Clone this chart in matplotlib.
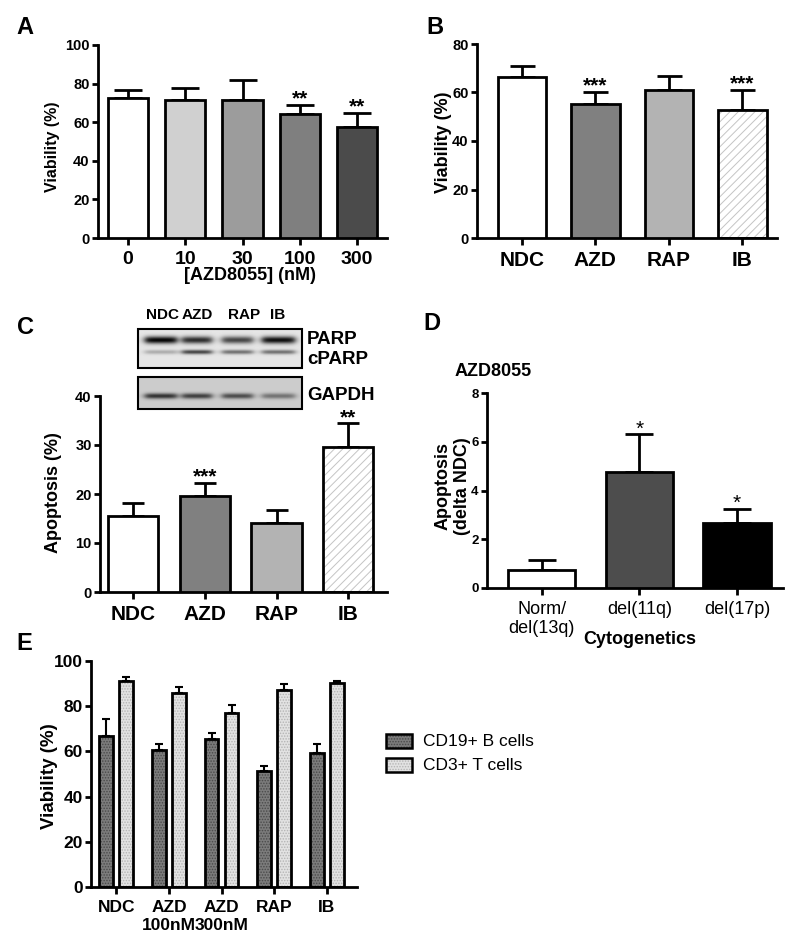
import numpy as np
import matplotlib
matplotlib.use('Agg')
import matplotlib.pyplot as plt
from matplotlib.patches import Rectangle

plt.rcParams['font.family'] = ['Liberation Sans', 'DejaVu Sans']
plt.rcParams['font.weight'] = 'bold'
plt.rcParams['hatch.linewidth'] = 0.7

# ---- data ----
dose_labels = ['0', '10', '30', '100', '300']
dose_viability = [72.5, 71.5, 71.5, 64.5, 57.5]
dose_err = [4.0, 6.0, 10.5, 4.5, 7.5]
dose_sig = ['', '', '', '**', '**']

drug_labels = ['NDC', 'AZD', 'RAP', 'IB']
drug_viability = [66.2, 55.2, 61.1, 52.8]
drug_viab_err = [4.8, 5.2, 5.7, 8.3]
drug_viab_sig = ['', '***', '', '***']

drug_apoptosis = [15.6, 19.6, 14.0, 29.6]
drug_apop_err = [2.6, 2.7, 2.7, 4.9]
drug_apop_sig = ['', '***', '', '**']

cyto_labels = ['Norm/\ndel(13q)', 'del(11q)', 'del(17p)']
cyto_delta = [0.75, 4.77, 2.66]
cyto_err = [0.38, 1.53, 0.57]
cyto_sig = ['', '*', '*']

cell_groups = ['NDC', 'AZD\n100nM', 'AZD\n300nM', 'RAP', 'IB']
bcell_viability = [67.0, 60.8, 65.6, 51.3, 59.1]
bcell_err = [7.2, 2.3, 2.5, 2.2, 4.0]
tcell_viability = [91.3, 86.0, 77.1, 87.3, 90.3]
tcell_err = [1.8, 2.3, 3.4, 2.7, 0.9]

blot_lanes = ['NDC', 'AZD', 'RAP', 'IB']
parp_band = [0.88, 0.72, 0.62, 0.84]
cparp_band = [0.22, 0.62, 0.45, 0.45]
gapdh_band = [0.6, 0.55, 0.5, 0.35]

W, H = 800, 950
LW = 2.0
fig = plt.figure(figsize=(W / 100, H / 100), dpi=100)


def px_axes(x0, y0, x1, y1):
    # pixel box: x0 left, y0 top, x1 right, y1 bottom
    return fig.add_axes([x0 / W, 1 - y1 / H, (x1 - x0) / W, (y1 - y0) / H])


def style_axes(ax, ysize=10, xsize=14, xweight='bold'):
    for s in ['top', 'right']:
        ax.spines[s].set_visible(False)
    for s in ['left', 'bottom']:
        ax.spines[s].set_linewidth(LW)
    ax.tick_params(axis='y', width=LW, length=4, pad=2, labelsize=ysize)
    ax.tick_params(axis='x', width=LW, length=5, pad=4, labelsize=xsize)
    for lab in ax.get_xticklabels():
        lab.set_fontweight(xweight)


def draw_bars(ax, x, vals, errs, faces, width, hatches=None, hcolors=None, capsize=9, elw=LW):
    n = len(vals)
    hatches = hatches or [None] * n
    hcolors = hcolors or [None] * n
    for xi, v, fc, h, hc in zip(x, vals, faces, hatches, hcolors):
        if h:
            ax.bar(xi, v, width, color=fc, edgecolor=hc, hatch=h, linewidth=0, zorder=2)
            ax.bar(xi, v, width, fill=False, edgecolor='black', linewidth=LW, zorder=3)
        else:
            ax.bar(xi, v, width, color=fc, edgecolor='black', linewidth=LW, zorder=3)
    ax.errorbar(x, vals, yerr=[np.zeros(n), errs], fmt='none', ecolor='black',
                elinewidth=elw, capsize=capsize, capthick=elw, zorder=1)


def add_stars(ax, x, vals, errs, sigs, size=15, weight='bold'):
    for xi, v, e, s in zip(x, vals, errs, sigs):
        if s:
            ax.text(xi, v + e, s, ha='center', va='baseline', fontsize=size, fontweight=weight)


# ---- A ----
axA = px_axes(98, 45, 387, 238)
xa = np.arange(len(dose_labels))
draw_bars(axA, xa, dose_viability, dose_err,
          ['white', '#d0d0d0', '#9c9c9c', '#7f7f7f', '#4b4b4b'], 0.7, capsize=10)
add_stars(axA, xa, dose_viability, dose_err, dose_sig)
axA.set_xlim(-0.52, 4.52)
axA.set_ylim(0, 100)
axA.set_yticks(range(0, 101, 20))
axA.set_xticks(xa, dose_labels)
style_axes(axA, ysize=10.5, xsize=14)

# ---- B ----
axB = px_axes(477, 44, 777, 238)
xb = np.arange(len(drug_labels))
drug_faces = ['white', '#808080', '#b3b3b3', 'white']
drug_hatch = [None, None, None, '////']
drug_hcol = [None, None, None, '#c4c4c4']
draw_bars(axB, xb, drug_viability, drug_viab_err, drug_faces, 0.66, drug_hatch, drug_hcol, capsize=9)
add_stars(axB, xb, drug_viability, drug_viab_err, drug_viab_sig)
axB.set_xlim(-0.61, 3.47)
axB.set_ylim(0, 80)
axB.set_yticks(range(0, 81, 20))
axB.set_xticks(xb, drug_labels)
style_axes(axB, ysize=10.5, xsize=15)

# ---- C ----
axC = px_axes(100, 396, 387, 592)
draw_bars(axC, xb, drug_apoptosis, drug_apop_err, drug_faces, 0.7, drug_hatch, drug_hcol, capsize=8)
add_stars(axC, xb, drug_apoptosis, drug_apop_err, drug_apop_sig)
axC.set_xlim(-0.46, 3.54)
axC.set_ylim(0, 40)
axC.set_yticks(range(0, 41, 10))
axC.set_xticks(xb, drug_labels)
style_axes(axC, ysize=10.5, xsize=15)

# ---- D ----
axD = px_axes(487, 393, 783, 588)
xd = np.arange(len(cyto_labels))
draw_bars(axD, xd, cyto_delta, cyto_err, ['white', '#4d4d4d', 'black'], 0.69, capsize=10)
add_stars(axD, xd, cyto_delta, cyto_err, cyto_sig, weight='normal')
axD.set_xlim(-0.56, 2.47)
axD.set_ylim(0, 8)
axD.set_yticks(range(0, 9, 2))
axD.set_xticks(xd, cyto_labels)
style_axes(axD, ysize=9.5, xsize=13, xweight='normal')

# ---- E ----
axE = px_axes(91, 661, 357, 887)
xe = np.arange(len(cell_groups))
bw, off = 0.26, 0.19
draw_bars(axE, xe - off, bcell_viability, bcell_err, ['#7b7b7b'] * 5, bw,
          ['......'] * 5, ['#4a4a4a'] * 5, capsize=3, elw=1.5)
draw_bars(axE, xe + off, tcell_viability, tcell_err, ['#e2e2e2'] * 5, bw,
          ['......'] * 5, ['#b4b4b4'] * 5, capsize=3, elw=1.5)
axE.set_xlim(-0.48, 4.57)
axE.set_ylim(0, 100)
axE.set_yticks(range(0, 101, 20))
axE.set_xticks(xe, cell_groups)
style_axes(axE, ysize=12.5, xsize=12.5)
for lab in axE.get_xticklabels():
    lab.set_linespacing(1.3)

# ---- overlay in pixel coordinates: letters, labels, blot, legend ----
ov = fig.add_axes([0, 0, 1, 1], zorder=10)
ov.set_axis_off()
ov.patch.set_alpha(0)

for letter, (lx, ly) in zip('ABCDE', [(25, 27), (435, 27), (25, 328), (432, 324), (24, 643)]):
    ov.text(lx, ly, letter, fontsize=17, ha='center', va='center')

ov.text(53, 147, 'Viability (%)', fontsize=11.5, rotation=90, ha='center', va='center')
ov.text(250, 276, '[AZD8055] (nM)', fontsize=13, ha='center', va='center')
ov.text(443, 142, 'Viability (%)', fontsize=13, rotation=90, ha='center', va='center')
ov.text(54, 493, 'Apoptosis (%)', fontsize=13, rotation=90, ha='center', va='center')
ov.text(453, 486, 'Apoptosis\n(delta NDC)', fontsize=13, rotation=90, ha='center', va='center')
ov.text(640, 640, 'Cytogenetics', fontsize=13, ha='center', va='center')
ov.text(493, 371, 'AZD8055', fontsize=13, ha='center', va='center')
ov.text(49, 776, 'Viability (%)', fontsize=13.5, rotation=90, ha='center', va='center')

# western blot inset
lane_spans = [(145, 177), (182, 212), (222, 253), (262, 295)]


def blot_image(x0, x1, y0, y1, bands, bg):
    xs = np.arange(x0, x1) + 0.5
    ys = np.arange(y0, y1) + 0.5
    img = np.full((len(ys), len(xs)), bg)
    for yc, thick, strengths in bands:
        prof_y = np.exp(-0.5 * ((ys - yc) / thick) ** 2)
        for (a, b), s in zip(lane_spans, strengths):
            prof_x = 1 / (1 + np.exp(-(xs - a) / 2.0)) / (1 + np.exp((xs - b) / 2.0))
            img -= s * np.outer(prof_y, prof_x)
    return np.clip(img, 0, 1)


img1 = blot_image(138, 302, 329, 368, [(340, 2.6, parp_band), (352, 1.6, cparp_band)], 0.9)
img2 = blot_image(138, 302, 377, 409, [(396, 2.0, gapdh_band)], 0.8)
ov.imshow(img1, cmap='gray', vmin=0, vmax=1, extent=(138, 302, 368, 329), aspect='auto')
ov.imshow(img2, cmap='gray', vmin=0, vmax=1, extent=(138, 302, 409, 377), aspect='auto')
ov.add_patch(Rectangle((138, 329), 164, 39, fill=False, edgecolor='black', linewidth=1.5))
ov.add_patch(Rectangle((138, 377), 164, 32, fill=False, edgecolor='black', linewidth=1.5))
for (a, b), name in zip([(147, 178), (182, 213), (229, 260), (269, 287)], blot_lanes):
    ov.text((a + b) / 2, 315, name, fontsize=11, ha='center', va='center')
ov.text(307, 339, 'PARP', fontsize=13.5, ha='left', va='center')
ov.text(307, 360, 'cPARP', fontsize=13.5, ha='left', va='center')
ov.text(307, 396, 'GAPDH', fontsize=13.5, ha='left', va='center')

# legend for E
for yc, fc, hc, name in [(741, '#7b7b7b', '#4a4a4a', 'CD19+ B cells'),
                         (765, '#e2e2e2', '#b4b4b4', 'CD3+ T cells')]:
    ov.add_patch(Rectangle((386, yc - 7), 26, 14, facecolor=fc, edgecolor=hc, hatch='......', linewidth=0))
    ov.add_patch(Rectangle((386, yc - 7), 26, 14, fill=False, edgecolor='black', linewidth=1.8))
    ov.text(423, yc, name, fontsize=12.5, fontweight='normal', ha='left', va='center')

ov.set_xlim(0, W)
ov.set_ylim(H, 0)

fig.savefig('out.png', dpi=100)
